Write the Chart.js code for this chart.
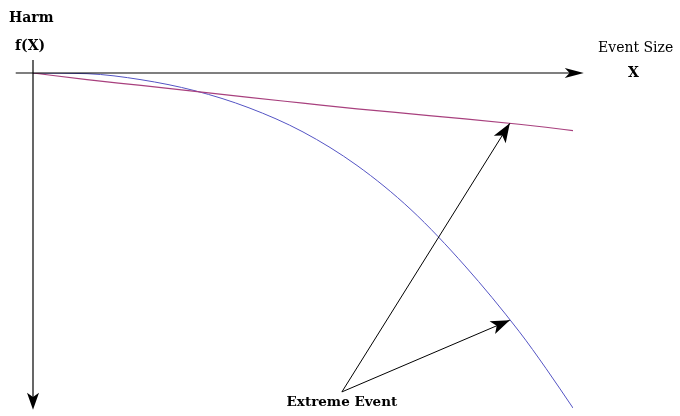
<!DOCTYPE html>
<html>
<head>
<meta charset="utf-8">
<script src="https://cdn.jsdelivr.net/npm/chart.js@4"></script>
<style>
  html, body { margin: 0; padding: 0; background: #fff; }
  #wrap { width: 680px; height: 416px; position: relative; }
</style>
</head>
<body>
<div id="wrap"><canvas id="harmChart"></canvas></div>
<script>
// event size (x) and harm f(X) for the two curves, harm drawn downwards
const eventSize = [0, 1, 2, 3, 4, 5, 6, 7, 8, 9, 9.5, 10];
const harmLinear = [0, -0.2, -0.37, -0.55, -0.73, -0.9, -1.07, -1.22, -1.37, -1.53, -1.62, -1.72];
const harmConcave = [0, -0.02, -0.2, -0.53, -1.04, -1.76, -2.76, -4.08, -5.76, -7.71, -8.82, -10.0];

// axis extents and the "Extreme Event" annotation (data units)
const xAxisRange = [-0.32, 10.2];
const yAxisRange = [0.39, -10.05];
const extremeLabel = 'Extreme Event';
const extremeAnchor = [5.72, -9.52];
const extremeTargetX = 8.83;

function interp(xs, ys, x) {
  for (let i = 0; i < xs.length - 1; i++) {
    if (x >= xs[i] && x <= xs[i + 1]) {
      const t = (x - xs[i]) / (xs[i + 1] - xs[i]);
      return ys[i] + t * (ys[i + 1] - ys[i]);
    }
  }
  return ys[ys.length - 1];
}

function arrowHead(ctx, x1, y1, x2, y2, len, half) {
  const a = Math.atan2(y2 - y1, x2 - x1);
  const bx = x2 - len * Math.cos(a), by = y2 - len * Math.sin(a);
  const nx = -Math.sin(a), ny = Math.cos(a);
  const mx = x2 - len * 0.75 * Math.cos(a), my = y2 - len * 0.75 * Math.sin(a);
  ctx.beginPath();
  ctx.moveTo(x2, y2);
  ctx.lineTo(bx + nx * half, by + ny * half);
  ctx.lineTo(mx, my);
  ctx.lineTo(bx - nx * half, by - ny * half);
  ctx.closePath();
  ctx.fill();
}

const decorations = {
  id: 'decorations',
  afterDatasetsDraw(chart) {
    const { ctx, scales: { x, y } } = chart;
    const x0 = x.getPixelForValue(0), y0 = y.getPixelForValue(0);
    ctx.save();
    ctx.strokeStyle = '#000';
    ctx.fillStyle = '#000';
    ctx.lineWidth = 1.2;

    // horizontal axis
    const xa = x.getPixelForValue(xAxisRange[0]), xb = x.getPixelForValue(xAxisRange[1]);
    ctx.beginPath(); ctx.moveTo(xa, y0); ctx.lineTo(xb - 8, y0); ctx.stroke();
    arrowHead(ctx, xa, y0, xb, y0, 19, 5);
    // vertical axis
    const ya = y.getPixelForValue(yAxisRange[0]), yb = y.getPixelForValue(yAxisRange[1]);
    ctx.beginPath(); ctx.moveTo(x0, ya); ctx.lineTo(x0, yb - 8); ctx.stroke();
    arrowHead(ctx, x0, ya, x0, yb, 17, 6);

    // annotation arrows
    const ax = x.getPixelForValue(extremeAnchor[0]), ay = y.getPixelForValue(extremeAnchor[1]);
    const tx = x.getPixelForValue(extremeTargetX);
    [harmLinear, harmConcave].forEach(vals => {
      const ty = y.getPixelForValue(interp(eventSize, vals, extremeTargetX));
      ctx.lineWidth = 1;
      ctx.beginPath(); ctx.moveTo(ax, ay); ctx.lineTo(tx, ty); ctx.stroke();
      arrowHead(ctx, ax, ay, tx, ty, 19, 7);
    });

    // labels
    ctx.textBaseline = 'alphabetic';
    ctx.textAlign = 'left';
    ctx.font = 'bold 14px "DejaVu Serif"';
    ctx.fillText('Harm', 9, 22);
    ctx.fillText('f(X)', 15, 50);
    ctx.font = '14px "DejaVu Serif"';
    ctx.fillText('Event Size', 598, 52);
    ctx.font = 'bold 14px "DejaVu Serif"';
    ctx.fillText('X', 628, 77);
    ctx.textAlign = 'center';
    ctx.font = 'bold 13.5px "DejaVu Serif"';
    ctx.fillText(extremeLabel, ax, 406);
    ctx.restore();
  }
};

new Chart(document.getElementById('harmChart'), {
  type: 'line',
  data: {
    labels: eventSize,
    datasets: [{
      data: eventSize.map((v, i) => ({ x: v, y: harmLinear[i] })),
      borderColor: '#a8407e',
      borderWidth: 1.2,
      pointRadius: 0,
      cubicInterpolationMode: 'monotone',
      fill: false
    }, {
      data: eventSize.map((v, i) => ({ x: v, y: harmConcave[i] })),
      borderColor: '#5454c4',
      borderWidth: 1,
      pointRadius: 0,
      cubicInterpolationMode: 'monotone',
      fill: false
    }]
  },
  options: {
    responsive: true,
    maintainAspectRatio: false,
    animation: false,
    layout: { padding: { left: 33, top: 73, right: 107, bottom: 8 } },
    plugins: { legend: { display: false }, tooltip: { enabled: false } },
    scales: {
      x: { type: 'linear', min: 0, max: 10, display: false },
      y: { type: 'linear', min: -10, max: 0, display: false }
    }
  },
  plugins: [decorations]
});
</script>
</body>
</html>
